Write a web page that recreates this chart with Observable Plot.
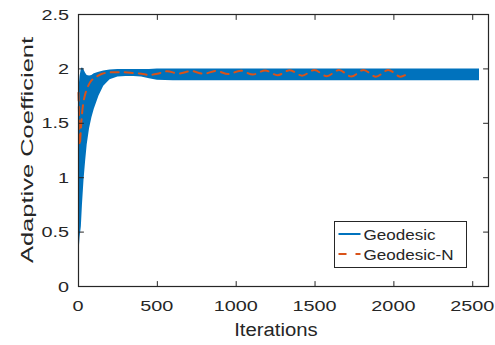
<!DOCTYPE html>
<html>
<head>
<meta charset="utf-8">
<script src="https://cdn.jsdelivr.net/npm/d3@7"></script>
<script src="https://cdn.jsdelivr.net/npm/@observablehq/plot@0.6"></script>
<style>
  html, body { margin: 0; padding: 0; background: #fff; }
  #chart { width: 495px; height: 345px; }
</style>
</head>
<body>
<div id="chart"></div>
<script>
// Axis ticks and labels
const xTicks = [0, 500, 1000, 1500, 2000, 2500];
const xTickLabels = ["0", "500", "1000", "1500", "2000", "2500"];
const yTicks = [0, 0.5, 1, 1.5, 2, 2.5];
const yTickLabels = ["0", "0.5", "1", "1.5", "2", "2.5"];
const xTitle = "Iterations";
const yTitle = "Adaptive Coefficient";

// Geodesic: fast oscillation, kept as its lower / upper envelope per iteration
const geoIter = [0, 5, 10, 18, 25, 35, 45, 55, 70, 85, 100, 130, 160, 200, 250, 300, 350, 400, 450, 500, 600, 2543];
const geoLow  = [0.28, 0.35, 0.45, 0.55, 0.75, 0.98, 1.15, 1.3, 1.45, 1.55, 1.63, 1.75, 1.84, 1.9, 1.925, 1.93, 1.93, 1.925, 1.91, 1.895, 1.89, 1.89];
const geoHigh = [1.75, 1.85, 1.93, 2.0, 2.01, 1.99, 1.96, 1.94, 1.935, 1.94, 1.955, 1.97, 1.98, 1.99, 1.995, 1.995, 1.995, 1.995, 1.995, 2.0, 2.0, 2.0];

// Geodesic-N: slower wave
const geoNIter  = [0, 4, 8, 14, 22, 32, 45, 60, 80, 110, 150, 200, 260, 330, 400, 445, 500,
                   560, 638, 716, 794, 872, 950, 1028, 1106, 1184, 1262, 1340, 1418, 1496, 1574, 1652, 1730, 1808, 1886, 1964, 2042, 2090];
const geoNValue = [1.78, 1.55, 1.3, 1.42, 1.58, 1.7, 1.78, 1.84, 1.89, 1.925, 1.955, 1.968, 1.97, 1.965, 1.955, 1.945, 1.955,
                   1.978, 1.958, 1.98, 1.955, 1.982, 1.952, 1.984, 1.948, 1.986, 1.942, 1.988, 1.938, 1.99, 1.933, 1.99, 1.93, 1.99, 1.928, 1.99, 1.928, 1.96];

const seriesNames = ["Geodesic", "Geodesic-N"];
const seriesColors = ["#0072BD", "#D95319"];

const band = geoIter.map((it, i) => ({it, lo: geoLow[i], hi: geoHigh[i]}));
const lineN = geoNIter.map((it, i) => ({it, v: geoNValue[i]}));

const ink = "#262626";
const font = "'Liberation Sans', Arial, Helvetica, sans-serif";

// short straight tick drawn by the vector mark
const tickShape = {draw(context, l) { context.moveTo(0, 0); context.lineTo(0, -l); }};
const inTick = (data, o) => Plot.vector(data, {length: 5, anchor: "start", shape: tickShape, stroke: ink, strokeWidth: 1, ...o});

const chart = Plot.plot({
  width: 495,
  height: 345,
  marginLeft: 78,
  marginRight: 7,
  marginTop: 14,
  marginBottom: 59,
  style: {fontFamily: font, fontSize: "15.5px", color: ink, background: "#fff"},
  x: {domain: [0, 2600], axis: null},
  y: {domain: [0, 2.5], axis: null},
  marks: [
    Plot.areaY(band, {x: "it", y1: "lo", y2: "hi", fill: seriesColors[0]}),
    Plot.line(lineN, {x: "it", y: "v", stroke: seriesColors[1], strokeWidth: 2, strokeDasharray: "8,6", curve: "catmull-rom"}),
    Plot.frame({stroke: ink, strokeWidth: 1.2}),
    // inward ticks on all four sides
    inTick(xTicks, {x: d => d, frameAnchor: "bottom", rotate: 0}),
    inTick(xTicks, {x: d => d, frameAnchor: "top", rotate: 180}),
    inTick(yTicks, {y: d => d, frameAnchor: "left", rotate: 90}),
    inTick(yTicks, {y: d => d, frameAnchor: "right", rotate: -90})
  ]
});

document.getElementById("chart").appendChild(chart);

const svg = d3.select(chart);
const X = chart.scale("x"), Y = chart.scale("y");
const left = 78, bottom = 345 - 59;

// wide lettering: each label is widened about its own anchor point
function label(g, str, x, y, {size = 15.5, widen = 1.28, anchor = "middle", rotate = 0} = {}) {
  return g.append("text")
    .attr("transform", `translate(${x},${y})${rotate ? ` rotate(${rotate})` : ""} scale(${widen},1)`)
    .attr("text-anchor", anchor)
    .attr("fill", ink)
    .style("font-family", font)
    .style("font-size", `${size}px`)
    .text(str);
}

const labels = svg.append("g");
xTicks.forEach((d, i) => label(labels, xTickLabels[i], X.apply(d), bottom + 25));
yTicks.forEach((d, i) => label(labels, yTickLabels[i], left - 9, Y.apply(d) + 5.6, {anchor: "end"}));
label(labels, xTitle, 276, bottom + 50, {size: 18, widen: 1.13});
label(labels, yTitle, 33, (14 + bottom) / 2, {size: 17, widen: 1.5, rotate: -90});

// legend box inside the plot area
const lg = svg.append("g").attr("transform", "translate(334.5,221.5)");
lg.append("rect").attr("width", 132).attr("height", 46).attr("fill", "#fff").attr("stroke", ink).attr("stroke-width", 1);
seriesNames.forEach((name, i) => {
  const cy = 12.5 + i * 20;
  lg.append("line")
    .attr("x1", 4).attr("x2", 26).attr("y1", cy).attr("y2", cy)
    .attr("stroke", seriesColors[i]).attr("stroke-width", 2)
    .attr("stroke-dasharray", i === 1 ? "8,9" : null);
  label(lg, name, 29, cy + 5.6, {anchor: "start", widen: 1.1});
});
</script>
</body>
</html>
